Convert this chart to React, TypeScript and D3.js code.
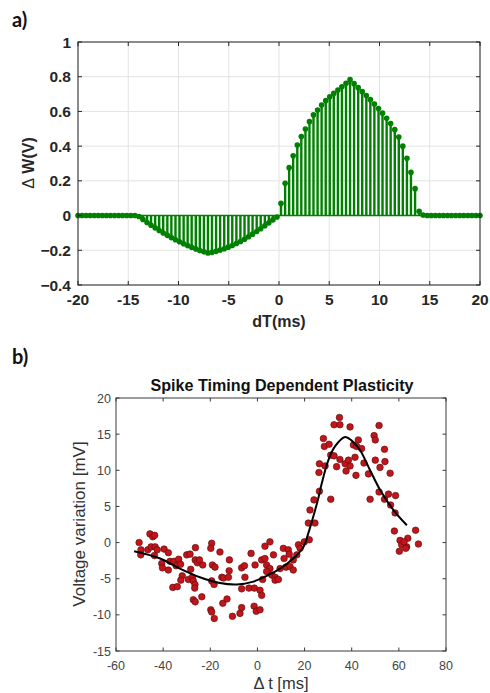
import React from "react";
import * as d3 from "d3";

// ---------- Panel a data (stem plot) ----------
const stemX: number[] = [
  -20.0, -19.6, -19.19, -18.79, -18.38, -17.98, -17.58, -17.17, -16.77, -16.36,
  -15.96, -15.56, -15.15, -14.75, -14.34, -13.94, -13.54, -13.13, -12.73, -12.32,
  -11.92, -11.52, -11.11, -10.71, -10.3, -9.9, -9.49, -9.09, -8.69, -8.28,
  -7.88, -7.47, -7.07, -6.67, -6.26, -5.86, -5.45, -5.05, -4.65, -4.24,
  -3.84, -3.43, -3.03, -2.63, -2.22, -1.82, -1.41, -1.01, -0.61, -0.2,
  0.2, 0.61, 1.01, 1.41, 1.82, 2.22, 2.63, 3.03, 3.43, 3.84,
  4.24, 4.65, 5.05, 5.45, 5.86, 6.26, 6.67, 7.07, 7.47, 7.88,
  8.28, 8.69, 9.09, 9.49, 9.9, 10.3, 10.71, 11.11, 11.52, 11.92,
  12.32, 12.73, 13.13, 13.54, 13.94, 14.34, 14.75, 15.15, 15.56, 15.96,
  16.36, 16.77, 17.17, 17.58, 17.98, 18.38, 18.79, 19.19, 19.6, 20.0,
];
const stemW: number[] = [
  0, 0, 0, 0, 0, 0, 0, 0, 0, 0,
  0, 0, 0, 0, 0, -0.005, -0.022, -0.04, -0.056, -0.071,
  -0.086, -0.1, -0.114, -0.127, -0.139, -0.151, -0.162, -0.173, -0.183, -0.192,
  -0.201, -0.209, -0.216, -0.212, -0.206, -0.199, -0.191, -0.182, -0.172, -0.161,
  -0.149, -0.136, -0.122, -0.107, -0.092, -0.076, -0.059, -0.042, -0.025, -0.008,
  0.07, 0.186, 0.276, 0.345, 0.407, 0.455, 0.499, 0.541, 0.58, 0.608,
  0.637, 0.662, 0.685, 0.704, 0.723, 0.742, 0.762, 0.783, 0.76, 0.737,
  0.714, 0.692, 0.668, 0.643, 0.617, 0.59, 0.56, 0.53, 0.495, 0.452,
  0.4, 0.33, 0.25, 0.155, 0.025, 0.003, 0, 0, 0, 0,
  0, 0, 0, 0, 0, 0, 0, 0, 0, 0,
];
const aXTicks = [-20, -15, -10, -5, 0, 5, 10, 15, 20];
const aYTicks = [-0.4, -0.2, 0, 0.2, 0.4, 0.6, 0.8, 1];

// ---------- Panel b data (scatter + fit) ----------
const dotT: number[] = [
  -50.2, -49.4, -49.5, -45.6, -44.4, -43.6, -46.5, -45.1, -43.4, -42.5,
  -43.7, -39.6, -37.8, -40.6, -40.3, -37.8, -37.1, -35.4, -34.5, -33.4,
  -32.6, -30.0, -28.6, -26.3, -26.4, -25.5, -28.3, -31.9, -32.5, -29.3,
  -27.6, -27.2, -26.5, -26.6, -35.9, -34.0, -27.2, -26.4, -23.6, -23.2,
  -24.6, -19.4, -19.8, -19.1, -18.0, -19.4, -18.4, -19.8, -19.4, -18.3,
  -15.9, -15.1, -14.4, -11.9, -12.0, -12.3, -14.7, -12.9, -10.6, -7.4,
  -6.7, -5.5, -5.3, -2.7, -3.6, -6.7, -1.3, -1.0, -1.4, -6.7,
  -0.5, 1.8, 2.2, 1.1, 1.8, 1.1, 3.2, 5.3, 3.2, 3.9,
  5.3, 3.9, 6.8, 6.1, 7.5, 7.5, 8.9, 9.6, 11.0, 11.3,
  12.1, 13.1, 13.5, 13.8, 15.2, 15.2, 16.7, 17.4, 18.1, 19.9,
  22.0, 21.6, 24.4, 22.3, 24.0, 26.3, 31.1, 47.8, 51.6, 53.9,
  55.6, 58.6, 56.5, 58.4, 58.1, 60.5, 60.2, 61.2, 63.3, 63.8,
  62.2, 62.9, 67.1, 68.3, 34.8, 32.5, 35.0, 39.3, 51.6, 28.0,
  28.4, 30.4, 31.1, 32.5, 26.3, 28.7, 26.1, 33.6, 35.0, 37.2,
  38.6, 39.3, 37.6, 41.4, 41.8, 40.7, 42.1, 42.8, 44.2, 45.2,
  47.1, 49.5, 50.0, 50.0, 52.0, 54.1, 53.9, 56.3,
];
const dotV: number[] = [
  0.0, -1.0, -1.7, 1.2, 0.8, 1.0, -1.0, -0.6, -0.6, -1.0,
  -1.8, -0.9, -1.4, -2.9, -3.5, -3.8, -2.6, -2.6, -3.2, -2.3,
  -3.0, -1.7, -1.6, -0.7, -2.4, -2.8, -3.7, -4.6, -5.2, -5.1,
  -4.8, -5.3, -5.8, -6.3, -6.2, -6.1, -7.9, -8.2, -7.5, -3.1,
  -2.4, -0.1, -0.8, -3.1, -3.4, -5.3, -5.8, -9.3, -9.6, -10.5,
  -1.3, -4.8, -4.9, -2.4, -3.9, -4.8, -8.4, -7.8, -10.2, -9.8,
  -3.5, -3.2, -4.8, -1.5, -6.3, -6.4, -6.3, -3.1, -8.8, -9.0,
  -9.5, -2.4, -5.1, -6.6, -7.3, -9.3, -0.5, 0.1, -2.2, -3.1,
  -3.6, -4.0, -1.7, -4.5, -4.8, -5.2, -5.1, -3.6, -0.8, -2.2,
  -3.4, -1.0, -1.6, -3.3, -3.8, -2.4, -1.7, -0.3, -0.8, 0.1,
  0.4, 2.7, 2.7, 4.5, 5.9, 7.1, 6.0, 6.0, 7.0, 6.0,
  6.7, 6.5, 5.2, 4.1, 1.6, 0.3, -1.2, -0.3, -0.6, 0.6,
  0.1, -0.8, 1.7, -0.2, 17.3, 16.3, 16.3, 16.0, 16.2, 14.4,
  13.3, 13.6, 12.1, 12.0, 10.9, 10.6, 9.7, 10.5, 11.5, 10.9,
  11.4, 10.6, 9.9, 11.8, 9.3, 13.5, 13.3, 14.2, 13.0, 11.0,
  9.5, 14.8, 14.2, 11.4, 10.4, 11.2, 12.9, 9.6,
];
const fitT: number[] = [
  -52.3, -41.3, -32.9, -24.4, -15.9, -8.8, -1.7, 3.9, 9.6, 15.2,
  19.5, 21.6, 23.7, 25.8, 27.3, 30.1, 32.9, 37.2, 40.0, 43.5,
  47.8, 52.0, 57.7, 63.4,
];
const fitV: number[] = [
  -1.2, -2.2, -3.6, -4.8, -5.6, -5.8, -5.4, -4.6, -3.6, -2.2,
  -0.6, 1.3, 3.6, 6.1, 8.2, 11.4, 13.3, 14.6, 14.1, 12.8,
  10.0, 7.3, 4.5, 2.4,
];
const bXTicks = [-60, -40, -20, 0, 20, 40, 60, 80];
const bYTicks = [-15, -10, -5, 0, 5, 10, 15, 20];

export default function App() {
  const ax = d3.scaleLinear().domain([-20, 20]).range([78, 480]);
  const ay = d3.scaleLinear().domain([-0.4, 1]).range([285, 42]);
  const bx = d3.scaleLinear().domain([-60, 80]).range([116, 446]);
  const by = d3.scaleLinear().domain([-15, 20]).range([651, 398]);

  const green = "#008000";
  const axisCol = "#262626";
  const fitLine = d3
    .line<number>()
    .x((_, i) => bx(fitT[i]))
    .y((_, i) => by(fitV[i]))
    .curve(d3.curveCatmullRom.alpha(0.5));

  const fa = "'Liberation Sans', Arial, Helvetica, sans-serif";

  return (
    <svg
      width={490}
      height={693}
      style={{ position: "absolute", left: 0, top: 0, background: "#fff" }}
      fontFamily={fa}
    >
      <rect x={0} y={0} width={490} height={693} fill="#fff" />

      {/* ===== Panel a ===== */}
      <text x={12} y={27} fontFamily="Lato, 'Open Sans', sans-serif" fontWeight="bold" fontSize={20} fill="#111">
        a)
      </text>
      {aXTicks.map((t) => (
        <line key={"agx" + t} x1={ax(t)} x2={ax(t)} y1={ay(1)} y2={ay(-0.4)} stroke="#e3e3e3" strokeWidth={1} />
      ))}
      {aYTicks.map((t) => (
        <line key={"agy" + t} x1={ax(-20)} x2={ax(20)} y1={ay(t)} y2={ay(t)} stroke="#e3e3e3" strokeWidth={1} />
      ))}
      <line x1={ax(-20)} x2={ax(20)} y1={ay(0)} y2={ay(0)} stroke={green} strokeWidth={1.5} />
      {stemX.map((x, i) => (
        <line key={"st" + i} x1={ax(x)} x2={ax(x)} y1={ay(0)} y2={ay(stemW[i])} stroke={green} strokeWidth={2.4} />
      ))}
      {stemX.map((x, i) => (
        <circle key={"sm" + i} cx={ax(x)} cy={ay(stemW[i])} r={2.8} fill={green} />
      ))}
      <rect x={ax(-20)} y={ay(1)} width={ax(20) - ax(-20)} height={ay(-0.4) - ay(1)} fill="none" stroke={axisCol} strokeWidth={1} />
      {aXTicks.map((t) => (
        <g key={"axt" + t}>
          <line x1={ax(t)} x2={ax(t)} y1={ay(-0.4)} y2={ay(-0.4) - 4} stroke={axisCol} />
          <line x1={ax(t)} x2={ax(t)} y1={ay(1)} y2={ay(1) + 4} stroke={axisCol} />
          <text x={ax(t)} y={305} textAnchor="middle" fontWeight="bold" fontSize={15.5} fill={axisCol}>
            {t}
          </text>
        </g>
      ))}
      {aYTicks.map((t) => (
        <g key={"ayt" + t}>
          <line x1={ax(-20)} x2={ax(-20) + 4} y1={ay(t)} y2={ay(t)} stroke={axisCol} />
          <line x1={ax(20)} x2={ax(20) - 4} y1={ay(t)} y2={ay(t)} stroke={axisCol} />
          <text x={71} y={ay(t) + 5.5} textAnchor="end" fontWeight="bold" fontSize={15.5} fill={axisCol}>
            {d3.format("")(+t.toFixed(1))}
          </text>
        </g>
      ))}
      <text x={279} y={327} textAnchor="middle" fontWeight="bold" fontSize={16} fill={axisCol}>
        dT(ms)
      </text>
      <text
        transform={`translate(34, 163) rotate(-90)`}
        textAnchor="middle"
        fontWeight="bold"
        fontSize={16}
        fill={axisCol}
      >
        <tspan fontWeight="normal">Δ</tspan> W(V)
      </text>

      {/* ===== Panel b ===== */}
      <text x={12} y={364} fontFamily="Lato, 'Open Sans', sans-serif" fontWeight="bold" fontSize={20} fill="#111">
        b)
      </text>
      <text x={282} y={391} textAnchor="middle" fontWeight="bold" fontSize={16.5} fill="#111" textLength={263} lengthAdjust="spacingAndGlyphs">
        Spike Timing Dependent Plasticity
      </text>
      {dotT.map((t, i) => (
        <circle key={"pt" + i} cx={bx(t)} cy={by(dotV[i])} r={3.3} fill="#c0151b" stroke="#5a0a0a" strokeWidth={0.6} />
      ))}
      <path d={fitLine(fitT) || ""} fill="none" stroke="#000" strokeWidth={2} />
      <rect x={bx(-60)} y={by(20)} width={bx(80) - bx(-60)} height={by(-15) - by(20)} fill="none" stroke="#3a3a3a" strokeWidth={1} />
      {bXTicks.map((t) => (
        <g key={"bxt" + t}>
          <line x1={bx(t)} x2={bx(t)} y1={by(-15)} y2={by(-15) - 3.5} stroke="#3a3a3a" />
          <line x1={bx(t)} x2={bx(t)} y1={by(20)} y2={by(20) + 3.5} stroke="#3a3a3a" />
          <text x={bx(t)} y={670} textAnchor="middle" fontSize={12.5} fill="#444">
            {t}
          </text>
        </g>
      ))}
      {bYTicks.map((t) => (
        <g key={"byt" + t}>
          <line x1={bx(-60)} x2={bx(-60) + 3.5} y1={by(t)} y2={by(t)} stroke="#3a3a3a" />
          <line x1={bx(80)} x2={bx(80) - 3.5} y1={by(t)} y2={by(t)} stroke="#3a3a3a" />
          <text x={111} y={by(t) + 4.5} textAnchor="end" fontSize={12.5} fill="#444">
            {t}
          </text>
        </g>
      ))}
      <text x={281} y={689} textAnchor="middle" fontSize={16.5} fill="#333">
        Δ t [ms]
      </text>
      <text transform={`translate(85, 524) rotate(-90)`} textAnchor="middle" fontSize={17} fill="#333">
        Voltage variation [mV]
      </text>
    </svg>
  );
}
